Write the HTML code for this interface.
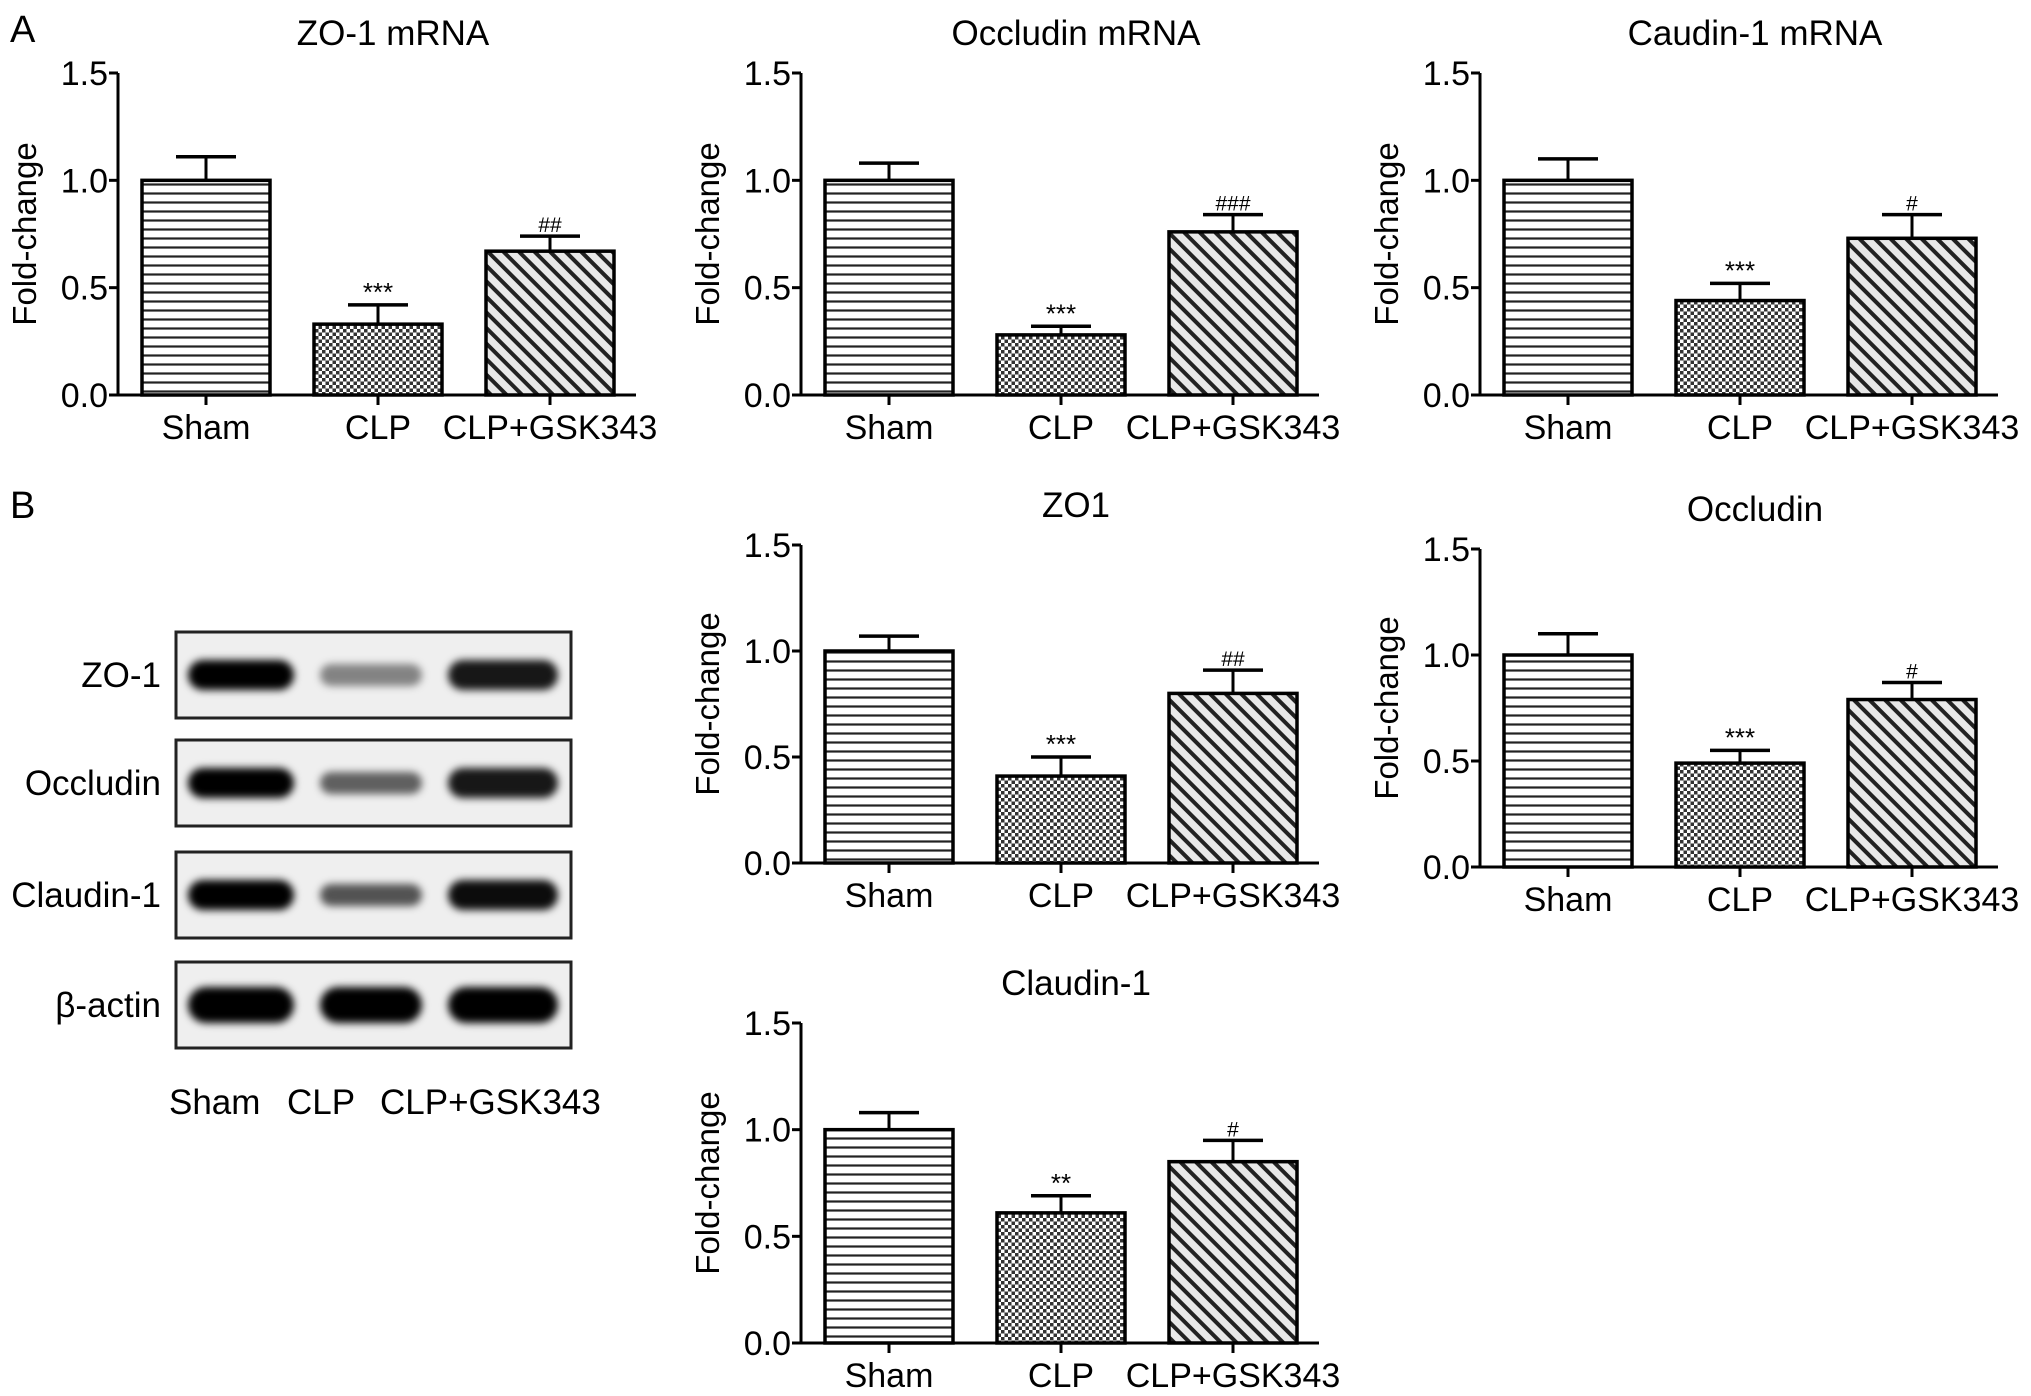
<!DOCTYPE html>
<html><head><meta charset="utf-8"><style>
html,body{margin:0;padding:0;background:#fff;}
svg{display:block;font-family:"Liberation Sans",Arial,sans-serif;}
</style></head><body>
<svg id="fig" width="2031" height="1396" viewBox="0 0 2031 1396" xmlns="http://www.w3.org/2000/svg">
<defs>
<pattern id="pH" width="10" height="9" patternUnits="userSpaceOnUse"><rect width="10" height="9" fill="#fff"/><line x1="0" y1="4.5" x2="10" y2="4.5" stroke="#222" stroke-width="2.2"/></pattern>
<pattern id="pC" width="7" height="7" patternUnits="userSpaceOnUse"><rect width="7" height="7" fill="#fff"/><rect x="0" y="0" width="3.5" height="3.5" fill="#333"/><rect x="3.5" y="3.5" width="3.5" height="3.5" fill="#333"/></pattern>
<pattern id="pD" width="11" height="11" patternUnits="userSpaceOnUse" patternTransform="rotate(-45)"><rect width="11" height="11" fill="#e8e8e8"/><rect x="0" y="0" width="4" height="11" fill="#222"/></pattern>
<filter id="blur" x="-20%" y="-60%" width="140%" height="220%"><feGaussianBlur stdDeviation="4"/></filter>
</defs>
<text x="10" y="42" font-size="38">A</text>
<text x="10" y="518" font-size="38">B</text>
<g id="blot"></g>
<g id="charts"></g>
</svg>
<script>
const categories = ["Sham", "CLP", "CLP+GSK343"];
const yTicks = [0.0, 0.5, 1.0, 1.5];
const yTickLabels = ["0.0", "0.5", "1.0", "1.5"];
const titles = ["ZO-1 mRNA", "Occludin mRNA", "Caudin-1 mRNA", "ZO1", "Occludin", "Claudin-1"];
const means = [[1.0,0.33,0.67],[1.0,0.28,0.76],[1.0,0.44,0.73],[1.0,0.41,0.80],[1.0,0.49,0.79],[1.0,0.61,0.85]];
const errors = [[0.11,0.09,0.07],[0.08,0.04,0.08],[0.10,0.08,0.11],[0.07,0.09,0.11],[0.10,0.06,0.08],[0.08,0.08,0.10]];
const sigs = [["","***","##"],["","***","###"],["","***","#"],["","***","##"],["","***","#"],["","**","#"]];
const blotRows = ["ZO-1","Occludin","Claudin-1","β-actin"];
const blotIntensity = [[1.0,0.45,0.9],[1.0,0.6,0.9],[1.0,0.65,0.95],[1.0,1.0,1.0]];

const NS = "http://www.w3.org/2000/svg";
function mk(tag, attrs, parent){const e=document.createElementNS(NS,tag);for(const k in attrs)e.setAttribute(k,attrs[k]);parent.appendChild(e);return e;}
const layout = [[118,73,395],[801,73,395],[1480,73,395],[801,545,863],[1480,549,867],[801,1023,1343]];
const pats = ["url(#pH)","url(#pC)","url(#pD)"];
const charts = document.getElementById("charts");
layout.forEach((L,pi)=>{
  const [ax,top,bot]=L;
  const g=mk("g",{},charts);
  
  
  const y=v=>bot-(v/1.5)*(bot-top);
  const bx=i=>ax+24+i*172;
  const bw=128;
  const t=mk("text",{x:ax+275,y:top-28,"font-size":35,"text-anchor":"middle"},g);t.textContent=titles[pi];
  
  
  const yl=mk("text",{x:0,y:0,"font-size":33,"text-anchor":"middle",transform:`translate(${ax-82},${(top+bot)/2}) rotate(-90)`},g);yl.textContent="Fold-change";
  
  
  mk("line",{x1:ax,y1:top,x2:ax,y2:bot+1.5,stroke:"#000","stroke-width":3},g);
  mk("line",{x1:ax,y1:bot,x2:ax+518,y2:bot,stroke:"#000","stroke-width":3},g);
  yTicks.forEach((v,i)=>{
    mk("line",{x1:ax-9,y1:y(v),x2:ax,y2:y(v),stroke:"#000","stroke-width":3},g);
    const tl=mk("text",{x:ax-10,y:y(v)+12,"font-size":34,"text-anchor":"end"},g);tl.textContent=yTickLabels[i];
    
    
  });
  categories.forEach((c,i)=>{
    const cx=bx(i)+bw/2;
    mk("line",{x1:cx,y1:bot,x2:cx,y2:bot+10,stroke:"#000","stroke-width":3},g);
    const xl=mk("text",{x:cx,y:bot+44,"font-size":34,"text-anchor":"middle"},g);xl.textContent=c;
    
    
    const m=means[pi][i],e=errors[pi][i];
    mk("line",{x1:cx,y1:y(m),x2:cx,y2:y(m+e),stroke:"#000","stroke-width":3},g);
    mk("line",{x1:cx-30,y1:y(m+e),x2:cx+30,y2:y(m+e),stroke:"#000","stroke-width":3.5},g);
    const r=mk("rect",{x:bx(i),y:y(m),width:bw,height:bot-y(m),fill:pats[i],stroke:"#000","stroke-width":3.5},g);
    
    
    if(sigs[pi][i]){
      const s=mk("text",{x:cx,y:y(m+e)-4,"font-size":sigs[pi][i].startsWith("*")?26:21,"text-anchor":"middle"},g);s.textContent=sigs[pi][i];
      
      
    }
  });
});
// western blot
const blot=document.getElementById("blot");
const rowY=[632,740,852,962];
blotRows.forEach((name,ri)=>{
  const y0=rowY[ri];
  const box=mk("rect",{x:176,y:y0,width:395,height:86,fill:"#efefef",stroke:"#222","stroke-width":3},blot);
  
  
  const lanes=[[186,296],[318,424],[446,560]];
  lanes.forEach((ln,li)=>{
    const a=blotIntensity[ri][li];
    const h=ri==3?36:(li==1?22:30);
    const b=mk("rect",{x:ln[0]+2,y:y0+43-h/2,width:ln[1]-ln[0]-4,height:h,rx:h/2,fill:"#000","fill-opacity":a,filter:"url(#blur)"},blot);
    
    
  });
  const l=mk("text",{x:161,y:y0+43+12,"font-size":35,"text-anchor":"end"},blot);l.textContent=name;
  
  
});
[["Sham",169],["CLP",287],["CLP+GSK343",380]].forEach(([t,x])=>{
  const l=mk("text",{x:x,y:1114,"font-size":35},blot);l.textContent=t;
  
  
});
</script>
</body></html>
